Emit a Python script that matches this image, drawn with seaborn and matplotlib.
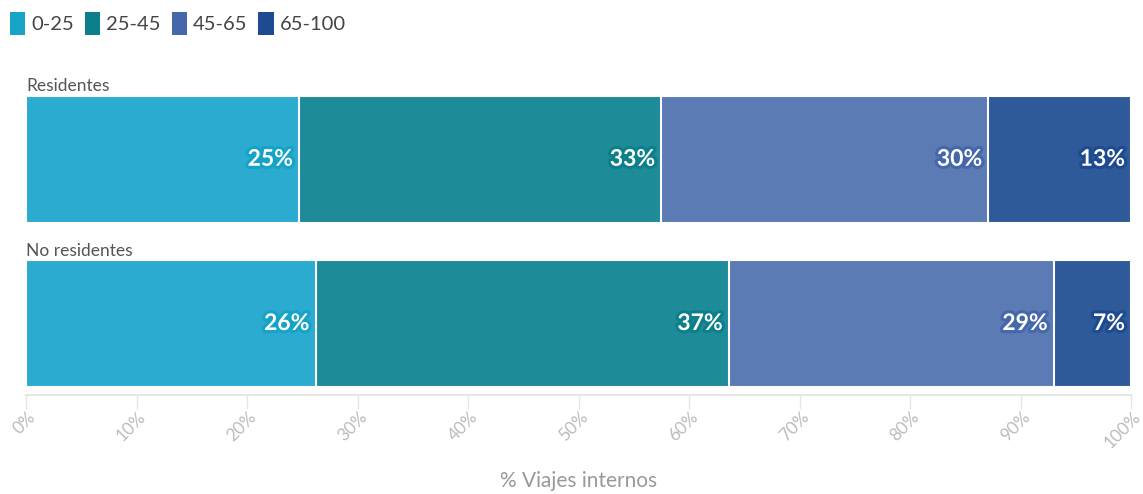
import numpy as np
import pandas as pd
import seaborn as sns
import matplotlib.pyplot as plt
import matplotlib.patheffects as pe
from matplotlib.patches import Patch
from matplotlib.transforms import ScaledTranslation

# Share of internal trips by age group
categories = ["Residentes", "No residentes"]
groups = ["0-25", "25-45", "45-65", "65-100"]
residentes = [24.7, 32.8, 29.6, 12.9]
no_residentes = [26.2, 37.4, 29.4, 7.0]
ticks = list(range(0, 101, 10))

# Solid legend colours and the lighter fills used on the bars
legend_colors = ["#15a3c8", "#0d7f8a", "#4568aa", "#1e4a8f"]
bar_colors = ["#2babd0", "#1e8c98", "#5c7ab4", "#2f5a9a"]

rows = []
for cat, vals in zip(categories, [residentes, no_residentes]):
    for g, v in zip(groups, vals):
        rows.append({"categoria": cat, "grupo": g, "valor": v})
df = pd.DataFrame(rows)
df["fin"] = df.groupby("categoria")["valor"].cumsum()

sns.set_style("white")
plt.rcParams["font.family"] = ["Lato", "DejaVu Sans"]

W, H = 1143, 494
fig = plt.figure(figsize=(W / 100, H / 100), dpi=100)
ax = fig.add_axes([26 / W, 1 - 395 / H, (1131 - 26) / W, (395 - 96) / H])

bar_w = 0.77
# Stacked bars: draw cumulative totals from the outermost segment inward
for g, c in reversed(list(zip(groups, bar_colors))):
    sns.barplot(data=df[df["grupo"] == g], x="fin", y="categoria", order=categories,
                orient="h", color=c, saturation=1, width=bar_w,
                edgecolor="white", linewidth=1.5, ax=ax)

# Value labels at the right end of each segment
for _, r in df.iterrows():
    i = categories.index(r["categoria"])
    lc = legend_colors[groups.index(r["grupo"])]
    ax.text(r["fin"] - 0.55, i, f"{round(r['valor'])}%", ha="right", va="center",
            color="white", fontsize=16.5, fontweight="bold",
            path_effects=[pe.withStroke(linewidth=4.5, foreground=lc)])

# Row titles above each bar
for i, cat in enumerate(categories):
    ax.text(0, i - bar_w / 2 - 0.01, cat, ha="left", va="bottom", color="#555555",
            fontsize=12.5, clip_on=False)

ax.set_xlim(0, 100)
ax.set_ylim(1.435, -0.385)
ax.set_yticks([])
ax.set_ylabel("")
ax.set_xticks(ticks)
ax.set_xticklabels([f"{t}%" for t in ticks])
ax.tick_params(axis="x", length=10, width=1, color="#e6e6e6", labelcolor="#bbbbbb",
               labelsize=12.5, pad=4, bottom=True)
for lab in ax.get_xticklabels():
    lab.set_rotation(45)
    lab.set_ha("right")
    lab.set_va("center")
    lab.set_rotation_mode("anchor")
    lab.set_transform(lab.get_transform() + ScaledTranslation(7 / 100, 0, fig.dpi_scale_trans))

for s in ["top", "right", "left"]:
    ax.spines[s].set_visible(False)
ax.spines["bottom"].set_color("#e6e6e6")
ax.spines["bottom"].set_linewidth(1.5)

ax.set_xlabel("% Viajes internos", color="#999999", fontsize=15)
ax.xaxis.set_label_coords(0.5, -0.255)

handles = [Patch(facecolor=c, edgecolor="none") for c in legend_colors]
fig.legend(handles, groups, loc="upper left", bbox_to_anchor=(6 / W, 1 - 8 / H),
           ncol=4, frameon=False, fontsize=14.5, labelcolor="#444444",
           handlelength=0.75, handleheight=1.4, handletextpad=0.3,
           columnspacing=0.55, borderaxespad=0, borderpad=0.2)

fig.savefig("out.png", dpi=100)
